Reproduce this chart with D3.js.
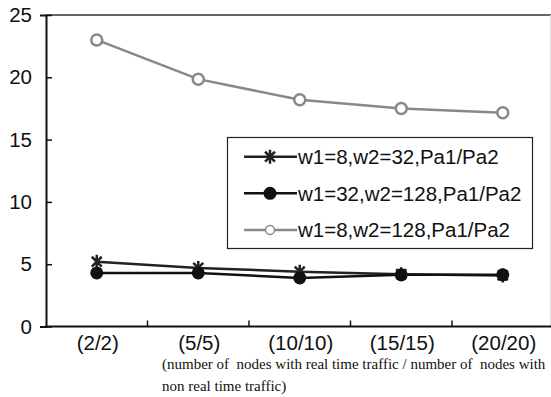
<!DOCTYPE html>
<html>
<head>
<meta charset="utf-8">
<script src="https://cdn.jsdelivr.net/npm/d3@7"></script>
<style>
  html, body { margin: 0; padding: 0; background: #fff; }
  svg { display: block; }
  text { white-space: pre; }
</style>
</head>
<body>
<svg id="chart" width="551" height="397"></svg>
<script>
// Categories on the x axis
const categories = ["(2/2)", "(5/5)", "(10/10)", "(15/15)", "(20/20)"];
// Series values
const seriesStar   = [5.2, 4.7, 4.4, 4.2, 4.1];      // w1=8,w2=32
const seriesDot    = [4.3, 4.3, 3.9, 4.15, 4.15];    // w1=32,w2=128
const seriesCircle = [23.0, 19.85, 18.2, 17.5, 17.15]; // w1=8,w2=128
const seriesNames  = ["w1=8,w2=32,Pa1/Pa2", "w1=32,w2=128,Pa1/Pa2", "w1=8,w2=128,Pa1/Pa2"];
const yTicks = [0, 5, 10, 15, 20, 25];
const captionLines = [
  "(number of  nodes with real time traffic / number of  nodes with",
  "non real time traffic)"
];

const svg = d3.select("#chart");
const plotLeft = 46, plotRight = 553.5, plotTop = 15, plotBottom = 326.5;
const sans = "Liberation Sans, Arial, sans-serif";

const x = d3.scaleBand().domain(categories).range([plotLeft, plotRight]);
const y = d3.scaleLinear().domain([0, 25]).range([plotBottom, plotTop]);

// plot frame: top and right edges
svg.append("line").attr("x1", plotLeft).attr("x2", 551).attr("y1", y(25)).attr("y2", y(25))
  .attr("stroke", "#666").attr("stroke-width", 2);
svg.append("line").attr("x1", 550.5).attr("x2", 550.5).attr("y1", y(25)).attr("y2", plotBottom)
  .attr("stroke", "#ddd").attr("stroke-width", 1);

// y axis
const yAxis = svg.append("g").attr("transform", `translate(${plotLeft},0)`)
  .call(d3.axisLeft(y).tickValues(yTicks).tickSize(6));
yAxis.select(".domain").attr("stroke", "#111").attr("stroke-width", 2);
yAxis.selectAll(".tick line").attr("stroke", "#111").attr("stroke-width", 1.5).attr("x2", 6).attr("x1", 0);
yAxis.selectAll(".tick text").attr("font-family", sans)
  .attr("font-size", 20.5).attr("fill", "#111").attr("x", -14);

// x axis: ticks on category boundaries
const xAxis = svg.append("g").attr("transform", `translate(0,${plotBottom})`);
xAxis.append("line").attr("x1", plotLeft - 1).attr("x2", 551).attr("y1", 0).attr("y2", 0)
  .attr("stroke", "#111").attr("stroke-width", 2);
categories.slice(1).forEach(c => {
  xAxis.append("line").attr("x1", x(c)).attr("x2", x(c)).attr("y1", 0).attr("y2", -6)
    .attr("stroke", "#111").attr("stroke-width", 1.5);
});
xAxis.selectAll("text.cat").data(categories).join("text").attr("class", "cat")
  .attr("x", d => x(d) + x.bandwidth() / 2 + 1).attr("y", 23.5)
  .attr("text-anchor", "middle")
  .attr("font-family", sans).attr("font-size", 20.5).attr("fill", "#111")
  .text(d => d);

// caption below the axis
svg.selectAll("text.cap").data(captionLines).join("text").attr("class", "cap")
  .attr("x", 162).attr("y", (d, i) => 369 + i * 22)
  .attr("font-family", "Liberation Serif, Times New Roman, serif").attr("font-size", 15).attr("fill", "#111")
  .text(d => d);

const cx = (d, i) => x(categories[i]) + x.bandwidth() / 2;
const line = d3.line().x((d, i) => cx(d, i)).y(d => y(d));

function starPath(r) {
  const a = r * Math.cos(Math.PI / 4), b = r * Math.sin(Math.PI / 4);
  return `M${-a},${-b}L${a},${b}M${-a},${b}L${a},${-b}M0,${-r}L0,${r}`;
}

function drawMarker(g, type, px, py) {
  if (type === "star") {
    g.append("path").attr("d", starPath(7)).attr("transform", `translate(${px},${py})`)
      .attr("stroke", "#222").attr("stroke-width", 2.5).attr("fill", "none");
  } else if (type === "dot") {
    g.append("circle").attr("cx", px).attr("cy", py).attr("r", 6.5).attr("fill", "#111");
  } else {
    g.append("circle").attr("cx", px).attr("cy", py).attr("r", 5.5)
      .attr("fill", "#fff").attr("stroke", "#888").attr("stroke-width", 2.5);
  }
}

const series = [
  { vals: seriesCircle, color: "#888", type: "circle" },
  { vals: seriesStar, color: "#222", type: "star" },
  { vals: seriesDot, color: "#111", type: "dot" }
];
series.forEach(s => {
  const g = svg.append("g");
  g.append("path").datum(s.vals).attr("d", line).attr("fill", "none")
    .attr("stroke", s.color).attr("stroke-width", 2.5);
  s.vals.forEach((v, i) => drawMarker(g, s.type, cx(v, i), y(v)));
});

// legend
const lg = svg.append("g");
lg.append("rect").attr("x", 227.5).attr("y", 137.5).attr("width", 305).attr("height", 111)
  .attr("fill", "#fff").attr("stroke", "#222").attr("stroke-width", 1.2);
const legendTypes = [
  { type: "star", color: "#222" },
  { type: "dot", color: "#111" },
  { type: "circle", color: "#888" }
];
seriesNames.forEach((name, i) => {
  const yy = 156.7 + i * 36.6;
  lg.append("line").attr("x1", 244).attr("x2", 297).attr("y1", yy).attr("y2", yy)
    .attr("stroke", legendTypes[i].color).attr("stroke-width", 2.5);
  if (legendTypes[i].type === "circle") {
    lg.append("circle").attr("cx", 270).attr("cy", yy).attr("r", 4.5)
      .attr("fill", "#fff").attr("stroke", "#888").attr("stroke-width", 1.5);
  } else {
    drawMarker(lg, legendTypes[i].type, 270, yy);
  }
  lg.append("text").attr("x", 298).attr("y", yy + 7.3)
    .attr("font-family", sans).attr("font-size", 20.5).attr("fill", "#111")
    .text(name);
});
</script>
</body>
</html>
